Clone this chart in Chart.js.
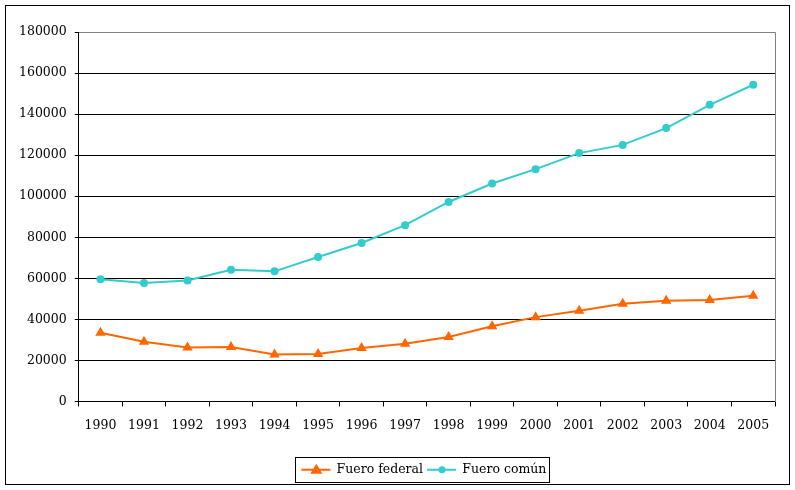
<!DOCTYPE html>
<html>
<head>
<meta charset="utf-8">
<script src="https://cdn.jsdelivr.net/npm/chart.js@4"></script>
<style>
    body { margin: 0; background: #fff; }
    #wrap { width: 795px; height: 490px; }
</style>
</head>
<body>
<div id="wrap"><canvas id="chart"></canvas></div>
<script>
// Data
const years = ['1990', '1991', '1992', '1993', '1994', '1995', '1996', '1997',
    '1998', '1999', '2000', '2001', '2002', '2003', '2004', '2005'];
const fueroFederal = [33500, 29100, 26300, 26500, 22900, 23100, 26100, 28100,
    31400, 36700, 41100, 44200, 47600, 49100, 49400, 51500];
const fueroComun = [59500, 57700, 59000, 64200, 63400, 70400, 77200, 85900,
    97200, 106200, 113200, 121000, 125000, 133200, 144500, 154300];

const orange = '#FF6600';
const cyan = '#33CCCC';
const font = { family: 'DejaVu Serif', size: 12.5 };

// Outer frame, plot border and legend box
const framePlugin = {
    id: 'frame',
    afterLayout(chart) {
        // center the legend under the plot area, not the whole canvas
        const lg = chart.legend;
        const a = chart.chartArea;
        const dx = (a.left + a.right) / 2 - 3 - (lg.left + lg.right) / 2;
        lg.left += dx;
        lg.right += dx;
    },
    beforeDraw(chart) {
        const ctx = chart.ctx;
        ctx.save();
        ctx.fillStyle = '#fff';
        ctx.fillRect(0, 0, chart.width, chart.height);
        ctx.strokeStyle = '#000';
        ctx.lineWidth = 1;
        ctx.strokeRect(5.5, 5.5, chart.width - 11, chart.height - 11);
        ctx.restore();
    },
    beforeDatasetsDraw(chart) {
        const ctx = chart.ctx;
        const a = chart.chartArea;
        ctx.save();
        ctx.strokeStyle = '#808080';
        ctx.lineWidth = 1;
        ctx.beginPath();
        ctx.moveTo(Math.round(a.left) + 0.5, Math.round(a.top) + 0.5);
        ctx.lineTo(Math.round(a.right) + 0.5, Math.round(a.top) + 0.5);
        ctx.lineTo(Math.round(a.right) + 0.5, Math.round(a.bottom));
        ctx.stroke();
        ctx.restore();
    },
    afterDraw(chart) {
        const boxes = chart.legend.legendHitBoxes;
        if (!boxes || !boxes.length) return;
        const ctx = chart.ctx;
        let l = Infinity, r = -Infinity, t = Infinity, b = -Infinity;
        boxes.forEach(h => {
            l = Math.min(l, h.left); r = Math.max(r, h.left + h.width);
            t = Math.min(t, h.top); b = Math.max(b, h.top + h.height);
        });
        ctx.save();
        ctx.strokeStyle = '#000';
        ctx.lineWidth = 1;
        ctx.strokeRect(Math.round(l) - 5.5, Math.round(t) - 6.5, Math.round(r - l) + 9, Math.round(b - t) + 12);
        // markers on the legend lines
        boxes.forEach((h, i) => {
            const ds = chart.data.datasets[i];
            const cx = h.left + 15;
            const cy = h.top + h.height / 2;
            ctx.fillStyle = ds.borderColor;
            ctx.beginPath();
            if (ds.pointStyle === 'triangle') {
                ctx.moveTo(cx, cy - 6);
                ctx.lineTo(cx + 6, cy + 4);
                ctx.lineTo(cx - 6, cy + 4);
                ctx.closePath();
            } else {
                ctx.arc(cx, cy, 3.5, 0, Math.PI * 2);
            }
            ctx.fill();
        });
        ctx.restore();
    }
};

new Chart(document.getElementById('chart'), {
    type: 'line',
    data: {
        labels: years,
        datasets: [{
            label: 'Fuero federal',
            data: fueroFederal,
            borderColor: orange,
            backgroundColor: orange,
            borderWidth: 2,
            pointStyle: 'triangle',
            pointRadius: 6,
            pointBorderWidth: 0,
            tension: 0
        }, {
            label: 'Fuero común',
            data: fueroComun,
            borderColor: cyan,
            backgroundColor: cyan,
            borderWidth: 2,
            pointStyle: 'circle',
            pointRadius: 4,
            pointBorderWidth: 0,
            tension: 0
        }]
    },
    options: {
        responsive: true,
        maintainAspectRatio: false,
        animation: false,
        layout: { padding: { left: 11, right: 20, top: 32, bottom: 4 } },
        plugins: {
            legend: {
                position: 'bottom',
                labels: {
                    font: font,
                    color: '#000',
                    boxWidth: 29,
                    boxHeight: 2,
                    padding: 4,
                    generateLabels(chart) {
                        return chart.data.datasets.map((ds, i) => ({
                            text: ds.label,
                            fillStyle: ds.borderColor,
                            strokeStyle: ds.borderColor,
                            lineWidth: 0,
                            datasetIndex: i
                        }));
                    }
                }
            },
            tooltip: { enabled: false }
        },
        scales: {
            x: {
                offset: true,
                afterFit(scale) { scale.height += 14; },
                grid: {
                    offset: true,
                    drawOnChartArea: false,
                    drawTicks: true,
                    tickLength: 5,
                    color: '#000'
                },
                border: { color: '#000', width: 1 },
                ticks: { font: font, color: '#000', padding: 12, maxRotation: 0, autoSkip: false }
            },
            y: {
                min: 0,
                max: 180000,
                grid: {
                    color: ctx => ctx.tick && ctx.tick.value === 180000 ? '#808080' : '#000',
                    tickLength: 4,
                    tickColor: '#000'
                },
                border: { color: '#000', width: 1 },
                ticks: {
                    stepSize: 20000, font: font, color: '#000', padding: 8,
                    callback: v => String(v)
                }
            }
        }
    },
    plugins: [framePlugin]
});
</script>
</body>
</html>
